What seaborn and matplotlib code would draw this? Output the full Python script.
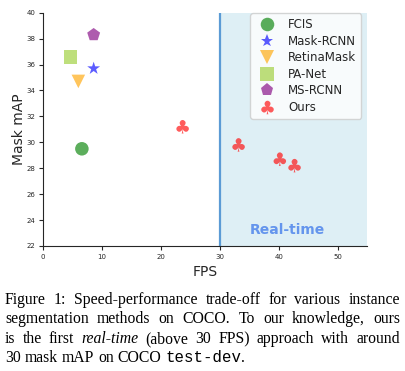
import numpy as np
import pandas as pd
import matplotlib
matplotlib.use("Agg")
import matplotlib.pyplot as plt
import seaborn as sns
from matplotlib.font_manager import FontProperties

# ---------------- data ----------------
methods = ["FCIS", "Mask-RCNN", "RetinaMask", "PA-Net", "MS-RCNN",
           "Ours", "Ours", "Ours", "Ours"]
fps = [6.6, 8.6, 6.0, 4.7, 8.6, 23.7, 33.2, 40.2, 42.7]
mask_map = [29.5, 35.7, 34.7, 36.6, 38.3, 31.2, 29.8, 28.7, 28.2]

legend_order = ["FCIS", "Mask-RCNN", "RetinaMask", "PA-Net", "MS-RCNN", "Ours"]
marker_map = {"FCIS": "o", "Mask-RCNN": "*", "RetinaMask": "v",
              "PA-Net": "s", "MS-RCNN": "p", "Ours": r"$\clubsuit$"}
color_map = {"FCIS": "green", "Mask-RCNN": "blue", "RetinaMask": "orange",
             "PA-Net": "yellowgreen", "MS-RCNN": "purple", "Ours": "red"}

x_ticks = [0, 10, 20, 30, 40, 50]
y_ticks = [22, 24, 26, 28, 30, 32, 34, 36, 38, 40]
realtime_fps = 30
x_max = 55
realtime_label = "Real-time"

caption_lines = [
    [("Figure 1: Speed-performance trade-off for various instance", "r", True)],
    [("segmentation methods on COCO. To our knowledge, ours", "r", True)],
    [("is the first", "r", True), ("real-time", "i", True),
     ("(above 30 FPS) approach with around", "r", True)],
    [("30 mask mAP on COCO", "r", True), ("test-dev", "m", True), (".", "r", False)],
]

df = pd.DataFrame({"method": methods, "FPS": fps, "Mask mAP": mask_map})

# ---------------- figure ----------------
W, H = 406, 371
sns.set_style("ticks")
fig = plt.figure(figsize=(W / 100, H / 100), dpi=100)
ax = fig.add_axes([43 / W, 1 - 246 / H, 324 / W, 233.3 / H])

ax.axvspan(realtime_fps, x_max, color="lightblue", alpha=0.4, zorder=0, lw=0)
ax.axvline(realtime_fps, color="#5b9bd5", lw=1.6, zorder=1)

sns.scatterplot(data=df, x="FPS", y="Mask mAP", hue="method", style="method",
                hue_order=legend_order, style_order=legend_order,
                palette=color_map, markers=marker_map, s=95, alpha=0.64,
                linewidth=0, ax=ax, zorder=3)

ax.text(41.4, 22.93, realtime_label, color="cornflowerblue", fontsize=10,
        fontweight="bold", ha="center", va="baseline", zorder=2)

ax.set_xlim(0, x_max)
ax.set_ylim(22, 40)
ax.set_xticks(x_ticks)
ax.set_yticks(y_ticks)
ax.tick_params(labelsize=5, length=3, width=0.8, pad=2.5)
ax.set_xlabel("FPS", fontsize=10, labelpad=4)
ax.set_ylabel("Mask mAP", fontsize=10, labelpad=0)
sns.despine(ax=ax)

leg = ax.legend(loc="upper right", bbox_to_anchor=(0.9815, 0.997), fontsize=8.5,
                frameon=True, borderaxespad=0.0, labelspacing=0.3)
leg.get_frame().set_facecolor("white")
leg.get_frame().set_alpha(0.8)
leg.get_frame().set_edgecolor("0.8")
for h in leg.legend_handles:
    try:
        h.set_markersize(np.sqrt(95))
    except Exception:
        pass
    try:
        h.set_sizes([95])
    except Exception:
        pass
    h.set_alpha(0.64)

# ---------------- caption (justified) ----------------
fs_cap = 11.3
props = {
    "r": FontProperties(family="Liberation Serif", size=fs_cap),
    "i": FontProperties(family="Liberation Serif", style="italic", size=fs_cap),
    "m": FontProperties(family="Liberation Mono", size=fs_cap),
}
baselines = [303.5, 323.2, 342.9, 362.5]
left_px, right_px = 5.0, 400.0
renderer = fig.canvas.get_renderer()
space_px = 0.25 * fs_cap * 100 / 72

for li, segs in enumerate(caption_lines):
    tokens = []  # (text, style, space_before)
    for text, style, sp in segs:
        words = text.split(" ")
        for wi, w in enumerate(words):
            tokens.append((w, style, sp if wi == 0 else True))
    tokens[0] = (tokens[0][0], tokens[0][1], False)
    artists = []
    widths = []
    for w, style, sp in tokens:
        t = fig.text(0, 1 - baselines[li] / H, w, fontproperties=props[style],
                     ha="left", va="baseline", color="black")
        artists.append(t)
        widths.append(t.get_window_extent(renderer).width)
    n_gaps = sum(1 for tk in tokens if tk[2])
    if li < len(caption_lines) - 1 and n_gaps > 0:
        gap = (right_px - left_px - sum(widths)) / n_gaps
    else:
        gap = space_px
    x = left_px
    for (w, style, sp), t, wd in zip(tokens, artists, widths):
        if sp:
            x += gap
        t.set_position((x / W, 1 - baselines[li] / H))
        x += wd

fig.savefig("out.png", dpi=100)
